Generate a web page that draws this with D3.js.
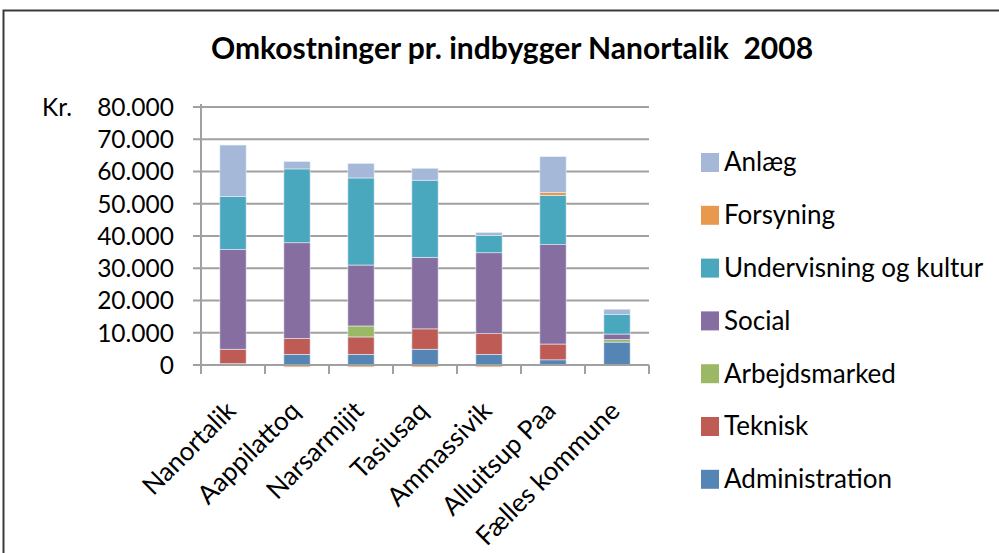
<!DOCTYPE html>
<html>
<head>
<meta charset="utf-8">
<script src="https://cdn.jsdelivr.net/npm/d3@7"></script>
<style>
  body { margin: 0; background: #fff; }
  svg { display: block; font-family: Lato, "Noto Sans", sans-serif; }
</style>
</head>
<body>
<svg id="chart" width="999" height="553"></svg>
<script>
// kr. per inhabitant (thousands)
var places = ["Nanortalik", "Aappilattoq", "Narsarmijit", "Tasiusaq", "Ammassivik", "Alluitsup Paa", "Fælles kommune"];
var administration = [0.4, 3.3, 3.3, 4.9, 3.3, 1.6, 7.1];
var teknisk        = [4.5, 4.9, 5.4, 6.3, 6.4, 4.9, 0.0];
var arbejdsmarked  = [0.0, 0.0, 3.4, 0.0, 0.0, 0.0, 0.8];
var social         = [30.9, 29.7, 18.9, 22.2, 25.1, 30.8, 1.7];
var undervisning   = [16.5, 22.9, 27.0, 23.9, 5.4, 15.3, 6.0];
var forsyning      = [0.0, -0.6, -0.6, -0.6, -0.6, 0.9, 0.0];
var anlaeg         = [15.9, 2.3, 4.5, 3.7, 0.9, 11.1, 1.7];

var seriesNames = ["Administration", "Teknisk", "Arbejdsmarked", "Social", "Undervisning og kultur", "Forsyning", "Anlæg"];
var seriesColors = ["#5585b5", "#be5b55", "#9bb864", "#866ea0", "#4aa8be", "#e8994e", "#a5b8d8"];
var yTicks = [0, 10000, 20000, 30000, 40000, 50000, 60000, 70000, 80000];

var values = [administration, teknisk, arbejdsmarked, social, undervisning, forsyning, anlaeg];
var rows = places.map(function(p, i) {
    var r = { place: p };
    seriesNames.forEach(function(s, k) { r[s] = values[k][i] * 1000; });
    return r;
});

var svg = d3.select("#chart");

// outer frame (runs off the right / bottom of the picture)
svg.append("rect")
    .attr("x", 3.5).attr("y", 10.5)
    .attr("width", 1100).attr("height", 700)
    .attr("fill", "none")
    .attr("stroke", "#3a3a3a")
    .attr("stroke-width", 2);

svg.append("text")
    .attr("x", 512).attr("y", 59)
    .attr("text-anchor", "middle")
    .style("font-size", "30px")
    .style("font-weight", "bold")
    .style("white-space", "pre")
    .text("Omkostninger pr. indbygger Nanortalik  2008");

var plotLeft = 201, plotRight = 649, plotTop = 107, plotBottom = 365;

var x = d3.scaleBand().domain(places).range([plotLeft, plotRight]).paddingInner(0.59).paddingOuter(0.295);
var xTicks = d3.scaleBand().domain(places).range([plotLeft, plotRight]);
var y = d3.scaleLinear().domain([0, 80000]).range([plotBottom, plotTop]);

var fmt = function(d) { return d3.format(",")(d).replace(/,/g, "."); };

// gridlines
svg.append("g")
    .selectAll("line")
    .data(yTicks)
    .enter().append("line")
    .attr("x1", plotLeft - 8).attr("x2", plotRight)
    .attr("y1", function(d) { return y(d); })
    .attr("y2", function(d) { return y(d); })
    .attr("stroke", "#a0a0a0")
    .attr("stroke-width", 2);

// y labels
svg.append("g")
    .selectAll("text")
    .data(yTicks)
    .enter().append("text")
    .attr("x", 174)
    .attr("y", function(d) { return y(d); })
    .attr("dy", "0.36em")
    .attr("text-anchor", "end")
    .style("font-size", "24.5px")
    .text(function(d) { return fmt(d); });

svg.append("text")
    .attr("x", 42).attr("y", y(80000))
    .attr("dy", "0.36em")
    .style("font-size", "24.5px")
    .text("Kr.");

// y axis line
svg.append("line")
    .attr("x1", plotLeft).attr("x2", plotLeft)
    .attr("y1", plotTop - 3).attr("y2", plotBottom + 9)
    .attr("stroke", "#a0a0a0").attr("stroke-width", 2);

// x tick marks between categories
var bounds = places.map(function(p) { return xTicks(p) + xTicks.bandwidth(); });
svg.append("g")
    .selectAll("line")
    .data(bounds)
    .enter().append("line")
    .attr("x1", function(d) { return d; }).attr("x2", function(d) { return d; })
    .attr("y1", plotBottom).attr("y2", plotBottom + 9)
    .attr("stroke", "#a0a0a0").attr("stroke-width", 2);

var stack = d3.stack()
    .keys(seriesNames)
    .offset(d3.stackOffsetDiverging);
var series = stack(rows);

svg.append("g")
    .selectAll("g")
    .data(series)
    .enter().append("g")
    .attr("fill", function(d, i) { return seriesColors[i]; })
    .selectAll("rect")
    .data(function(d) { return d.filter(function(v) { return v[1] !== v[0]; }); })
    .enter().append("rect")
    .attr("x", function(d) { return x(d.data.place); })
    .attr("width", x.bandwidth())
    .attr("y", function(d) { return y(Math.max(d[0], d[1])); })
    .attr("height", function(d) { return Math.abs(y(d[0]) - y(d[1])); })
    .attr("stroke", "#e8eef6")
    .attr("stroke-width", 0.6);

// x axis line on top of bars
svg.append("line")
    .attr("x1", plotLeft - 8).attr("x2", plotRight)
    .attr("y1", plotBottom).attr("y2", plotBottom)
    .attr("stroke", "#a0a0a0").attr("stroke-width", 2);

// category labels
svg.append("g")
    .selectAll("text")
    .data(places)
    .enter().append("text")
    .attr("transform", function(d) {
        return "translate(" + (x(d) + x.bandwidth() / 2 - 2) + "," + (plotBottom + 41) + ") rotate(-45)";
    })
    .attr("text-anchor", "end")
    .attr("dy", "0.35em")
    .style("font-size", "26px")
    .text(function(d) { return d; });

// legend, top to bottom in reverse stacking order
var legend = svg.append("g")
    .selectAll("g")
    .data(seriesNames.slice().reverse())
    .enter().append("g")
    .attr("transform", function(d, i) { return "translate(701," + (162 + i * 52.8) + ")"; });

legend.append("rect")
    .attr("x", 0).attr("y", -9)
    .attr("width", 18).attr("height", 19)
    .attr("fill", function(d) { return seriesColors[seriesNames.indexOf(d)]; });

legend.append("text")
    .attr("x", 23).attr("dy", "0.36em")
    .style("font-size", "26px")
    .text(function(d) { return d; });
</script>
</body>
</html>
